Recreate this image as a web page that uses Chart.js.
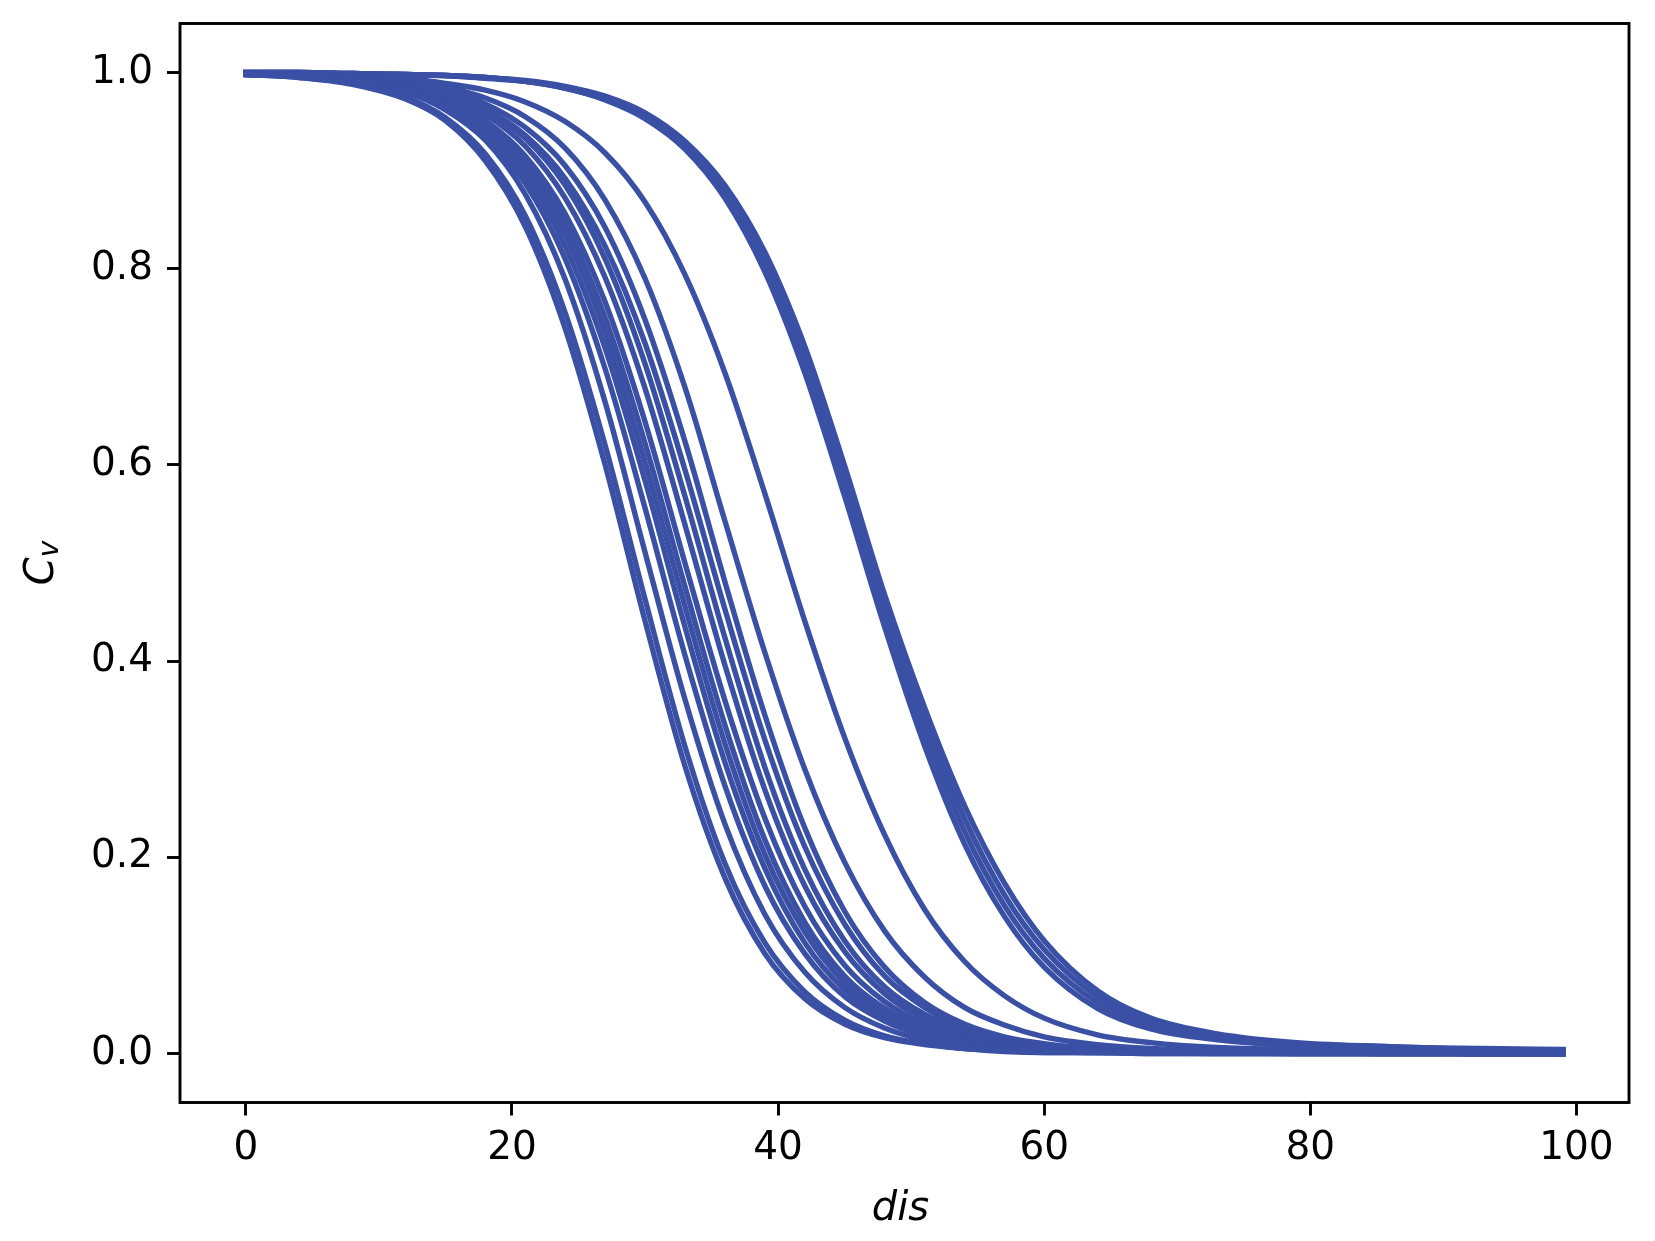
<!DOCTYPE html>
<html>
<head>
<meta charset="utf-8">
<title>Cv against dis</title>
<script src="https://cdn.jsdelivr.net/npm/chart.js@4.4.1/dist/chart.umd.min.js"></script>
<style>
  html, body { margin: 0; padding: 0; background: #ffffff; }
  canvas { display: block; }
</style>
</head>
<body>
<canvas id="cv" width="1655" height="1241"></canvas>
<script>
  "use strict";

  var LINE = "#3a50a5";
  var INK = "#000000";
  var FONT = "'DejaVu Sans', sans-serif";

  // x positions shared by every curve
  var dis = [0, 4, 8, 12, 15, 18, 21, 24, 27, 30, 33, 36, 39, 42, 45, 48, 51, 54, 57, 60, 64, 68, 73, 79, 86, 93, 99];

  // curves, left bundle to right bundle
  var cvL1 = [0.998, 0.995, 0.988, 0.973, 0.951, 0.910, 0.843, 0.739, 0.600, 0.441, 0.293, 0.179, 0.102, 0.056, 0.030, 0.016, 0.009, 0.005, 0.002, 0.001, 0.001, 0, 0, 0, 0, 0, 0];
  var cvL2 = [0.998, 0.995, 0.989, 0.975, 0.954, 0.917, 0.854, 0.755, 0.620, 0.463, 0.313, 0.194, 0.113, 0.063, 0.034, 0.018, 0.010, 0.005, 0.003, 0.001, 0.001, 0, 0, 0, 0, 0, 0];
  var cvK1 = [0.998, 0.996, 0.991, 0.980, 0.962, 0.931, 0.876, 0.789, 0.664, 0.511, 0.361, 0.234, 0.142, 0.083, 0.047, 0.026, 0.014, 0.008, 0.004, 0.002, 0.001, 0.001, 0, 0, 0, 0, 0];
  var cvK2 = [0.998, 0.996, 0.991, 0.980, 0.964, 0.935, 0.887, 0.810, 0.698, 0.556, 0.406, 0.273, 0.171, 0.102, 0.058, 0.033, 0.018, 0.010, 0.006, 0.003, 0.001, 0.001, 0.001, 0, 0, 0, 0];
  var cvK3 = [0.998, 0.996, 0.991, 0.981, 0.966, 0.939, 0.895, 0.823, 0.719, 0.584, 0.435, 0.297, 0.189, 0.113, 0.065, 0.037, 0.021, 0.011, 0.006, 0.003, 0.002, 0.001, 0.001, 0, 0, 0, 0];
  var cvK4 = [0.998, 0.996, 0.992, 0.982, 0.968, 0.944, 0.902, 0.835, 0.735, 0.603, 0.456, 0.316, 0.203, 0.124, 0.072, 0.041, 0.023, 0.013, 0.007, 0.004, 0.002, 0.001, 0.001, 0.001, 0, 0, 0];
  var cvK5 = [0.998, 0.997, 0.993, 0.984, 0.971, 0.948, 0.909, 0.846, 0.750, 0.622, 0.476, 0.335, 0.218, 0.134, 0.079, 0.046, 0.026, 0.015, 0.008, 0.005, 0.002, 0.001, 0.001, 0.001, 0, 0, 0];
  var cvK6 = [0.998, 0.997, 0.993, 0.985, 0.972, 0.951, 0.915, 0.856, 0.766, 0.644, 0.500, 0.360, 0.240, 0.150, 0.090, 0.053, 0.030, 0.017, 0.010, 0.006, 0.003, 0.002, 0.001, 0.001, 0, 0, 0];
  var cvK7 = [0.999, 0.997, 0.994, 0.986, 0.976, 0.957, 0.925, 0.872, 0.791, 0.678, 0.539, 0.396, 0.269, 0.171, 0.104, 0.061, 0.035, 0.020, 0.011, 0.006, 0.003, 0.002, 0.001, 0.001, 0.001, 0, 0];
  var cvK8 = [0.999, 0.997, 0.994, 0.988, 0.978, 0.961, 0.933, 0.885, 0.810, 0.703, 0.568, 0.424, 0.292, 0.188, 0.115, 0.068, 0.040, 0.023, 0.013, 0.007, 0.004, 0.002, 0.001, 0.001, 0.001, 0, 0];
  var cvK9 = [0.999, 0.997, 0.994, 0.988, 0.979, 0.963, 0.936, 0.892, 0.823, 0.724, 0.595, 0.453, 0.320, 0.211, 0.132, 0.079, 0.047, 0.027, 0.016, 0.009, 0.004, 0.002, 0.001, 0.001, 0.001, 0, 0];
  var cvK10 = [0.999, 0.998, 0.995, 0.990, 0.982, 0.968, 0.944, 0.905, 0.842, 0.748, 0.624, 0.481, 0.345, 0.230, 0.145, 0.088, 0.052, 0.030, 0.017, 0.010, 0.005, 0.003, 0.002, 0.001, 0.001, 0, 0];
  var cvC = [0.999, 0.998, 0.996, 0.992, 0.985, 0.974, 0.955, 0.923, 0.870, 0.790, 0.679, 0.543, 0.409, 0.290, 0.195, 0.125, 0.078, 0.047, 0.029, 0.017, 0.009, 0.005, 0.003, 0.002, 0.002, 0.001, 0.001];
  var cvB = [0.999, 0.998, 0.997, 0.994, 0.989, 0.982, 0.970, 0.950, 0.918, 0.868, 0.794, 0.694, 0.571, 0.441, 0.322, 0.223, 0.147, 0.094, 0.059, 0.036, 0.019, 0.011, 0.006, 0.004, 0.003, 0.002, 0.001];
  var cvR1 = [1.000, 1.000, 0.999, 0.998, 0.997, 0.994, 0.991, 0.984, 0.972, 0.953, 0.922, 0.872, 0.797, 0.694, 0.568, 0.435, 0.314, 0.214, 0.140, 0.088, 0.046, 0.025, 0.014, 0.008, 0.005, 0.003, 0.002];
  var cvR2 = [1.000, 1.000, 0.999, 0.998, 0.997, 0.995, 0.991, 0.984, 0.973, 0.955, 0.925, 0.876, 0.804, 0.703, 0.578, 0.447, 0.328, 0.227, 0.151, 0.097, 0.052, 0.028, 0.016, 0.009, 0.006, 0.004, 0.003];
  var cvR3 = [1.000, 1.000, 0.999, 0.998, 0.997, 0.995, 0.991, 0.985, 0.975, 0.957, 0.928, 0.881, 0.811, 0.712, 0.589, 0.458, 0.341, 0.240, 0.162, 0.106, 0.058, 0.032, 0.018, 0.010, 0.007, 0.004, 0.003];
  var cvR4 = [1.000, 1.000, 0.999, 0.998, 0.997, 0.995, 0.992, 0.986, 0.976, 0.959, 0.930, 0.885, 0.817, 0.721, 0.599, 0.468, 0.353, 0.253, 0.174, 0.115, 0.064, 0.036, 0.020, 0.011, 0.007, 0.005, 0.004];

  var curves = [cvL1, cvL2, cvK1, cvK2, cvK3, cvK4, cvK5, cvK6, cvK7, cvK8, cvK9, cvK10, cvC, cvB, cvR1, cvR2, cvR3, cvR4];

  var xTicks = [0, 20, 40, 60, 80, 100];
  var yTicks = [0, 0.2, 0.4, 0.6, 0.8, 1.0];

  // full box round the plot plus the two axis titles (C_v needs a subscript)
  var frame = {
    id: "frame",
    afterDraw: function (chart) {
      var a = chart.chartArea;
      var ctx = chart.ctx;
      ctx.save();
      ctx.strokeStyle = INK;
      ctx.lineWidth = 2.9;
      ctx.strokeRect(a.left, a.top, a.right - a.left, a.bottom - a.top);

      ctx.fillStyle = INK;
      ctx.textBaseline = "alphabetic";
      ctx.textAlign = "center";
      ctx.font = "italic 40px " + FONT;
      ctx.fillText("dis", (a.left + a.right) / 2 - 4, 1220);

      ctx.translate(53, (a.top + a.bottom) / 2);
      ctx.rotate(-Math.PI / 2);
      ctx.textAlign = "left";
      var big = "italic 40px " + FONT;
      var small = "italic 28px " + FONT;
      ctx.font = big;
      var wC = ctx.measureText("C").width;
      ctx.font = small;
      var wv = ctx.measureText("v").width;
      var x0 = -(wC + wv) / 2;
      ctx.font = big;
      ctx.fillText("C", x0, 0);
      ctx.font = small;
      ctx.fillText("v", x0 + wC, 5);
      ctx.restore();
    }
  };

  function tickGrid() {
    return {
      drawOnChartArea: false,
      drawTicks: true,
      tickLength: 13,
      tickWidth: 2.9,
      tickColor: INK,
      color: INK
    };
  }

  new Chart(document.getElementById("cv"), {
    type: "line",
    data: {
      datasets: curves.map(function (c) {
        return {
          data: dis.map(function (x, i) { return { x: x, y: c[i] }; }),
          borderColor: LINE,
          backgroundColor: LINE,
          borderWidth: 5.4,
          pointRadius: 0,
          cubicInterpolationMode: "monotone",
          borderCapStyle: "square",
          borderJoinStyle: "round",
          fill: false
        };
      })
    },
    options: {
      responsive: false,
      animation: false,
      devicePixelRatio: 1,
      layout: { padding: { top: 23.5, right: 26, left: 0, bottom: 0 } },
      plugins: { legend: { display: false }, tooltip: { enabled: false } },
      scales: {
        x: {
          type: "linear",
          bounds: "data",
          min: -4.95,
          max: 103.95,
          afterFit: function (s) { s.height = 138.5; },
          afterBuildTicks: function (s) { s.ticks = xTicks.map(function (v) { return { value: v }; }); },
          grid: tickGrid(),
          border: { display: false },
          ticks: {
            color: INK,
            font: { family: FONT, size: 39 },
            padding: 10,
            maxRotation: 0,
            autoSkip: false,
            callback: function (v) { return String(v); }
          }
        },
        y: {
          type: "linear",
          bounds: "data",
          min: -0.05,
          max: 1.05,
          afterFit: function (s) {
            s.width = 180;
            // labels sit well inside the range, no extra room needed above or below
            s.paddingTop = 0;
            s.paddingBottom = 0;
          },
          afterBuildTicks: function (s) { s.ticks = yTicks.map(function (v) { return { value: v }; }); },
          grid: tickGrid(),
          border: { display: false },
          ticks: {
            color: INK,
            font: { family: FONT, size: 39 },
            padding: 14,
            autoSkip: false,
            callback: function (v) { return v.toFixed(1); }
          }
        }
      }
    },
    plugins: [frame]
  });
</script>
</body>
</html>
